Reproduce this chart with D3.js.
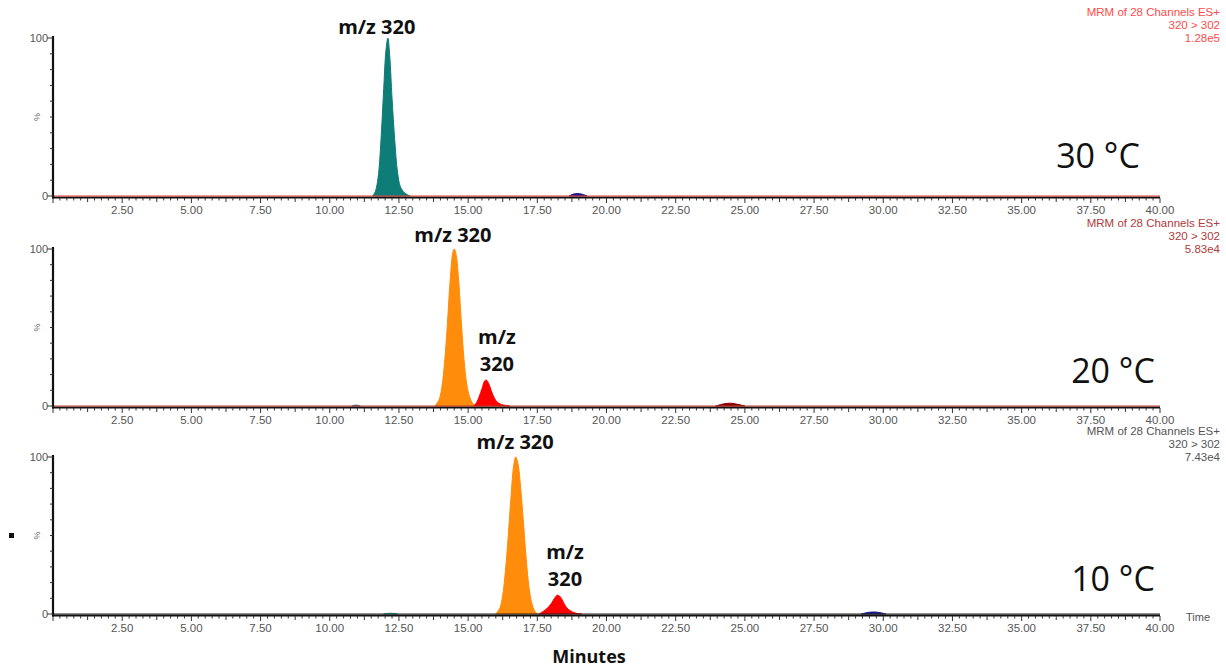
<!DOCTYPE html>
<html><head><meta charset="utf-8">
<script src="https://cdn.jsdelivr.net/npm/d3@7"></script>
<style>body{margin:0;background:#fff;} svg{display:block;}</style>
</head><body>
<svg id="c" width="1226" height="667"></svg>
<script>
// ---- data ----
const xTickLabels = ["2.50","5.00","7.50","10.00","12.50","15.00","17.50","20.00","22.50","25.00","27.50","30.00","32.50","35.00","37.50","40.00"];
const temperatures = ["30 °C","20 °C","10 °C"];
const headerLines = [["MRM of 28 Channels ES+","320 > 302","1.28e5"],
                     ["MRM of 28 Channels ES+","320 > 302","5.83e4"],
                     ["MRM of 28 Channels ES+","320 > 302","7.43e4"]];
// 30 °C main peak (time min, % intensity)
const peak30 = [[11.55,0],[11.65,3],[11.75,12],[11.85,35],[11.95,68],[12.03,92],[12.1,100],[12.17,88],[12.25,62],[12.35,35],[12.45,15],[12.55,6],[12.7,2],[12.9,0]];
const bump30 = [[18.65,0],[18.8,1.2],[18.95,1.6],[19.1,1.2],[19.3,0]];
// 20 °C
const peak20a = [[13.8,0],[13.95,4],[14.05,12],[14.15,28],[14.25,52],[14.35,80],[14.45,98],[14.5,100],[14.57,96],[14.65,82],[14.75,55],[14.85,30],[14.95,14],[15.05,6],[15.15,2],[15.25,0]];
const peak20b = [[15.2,0],[15.3,2],[15.4,6],[15.5,11],[15.6,16],[15.66,16.5],[15.75,14],[15.85,9],[15.95,5],[16.05,2.5],[16.2,1],[16.5,0]];
const bump20 = [[23.95,0],[24.2,1.2],[24.45,1.8],[24.7,1.2],[25.0,0]];
const bump20b = [[10.8,0],[10.95,0.6],[11.1,0]];
// 10 °C
const peak10a = [[16.0,0],[16.15,4],[16.25,12],[16.35,28],[16.45,50],[16.55,75],[16.65,95],[16.72,100],[16.8,96],[16.9,80],[17.0,58],[17.1,35],[17.2,17],[17.3,7],[17.4,2],[17.5,0]];
const peak10b = [[17.55,0],[17.7,1.5],[17.85,3.5],[18.0,6.5],[18.12,10],[18.22,12],[18.3,11.5],[18.4,9],[18.5,5.5],[18.62,3],[18.75,1.5],[18.9,0.5],[19.1,0]];
const bump10 = [[29.2,0],[29.45,1.0],[29.65,1.3],[29.85,1.0],[30.1,0]];
const bump10b = [[11.95,0],[12.2,0.5],[12.45,0]];

const panels = [
  {y0:196, y100:38, base:"#e8403a", hdr:"#ff4a4a",
   traces:[{d:peak30,c:"#0e7c77"},{d:bump30,c:"#1a1a8c"}],
   labels:[{t:["m/z 320"],x:11.7,v:102.5}], temp:{x:1098,y:168}},
  {y0:406, y100:249, base:"#c0392b", hdr:"#b03a3a",
   traces:[{d:peak20a,c:"#ff8c0a"},{d:peak20b,c:"#ff0000"},{d:bump20,c:"#8b0000"},{d:bump20b,c:"#3070b0"}],
   labels:[{t:["m/z 320"],x:14.45,v:104.5},{t:["m/z","320"],x:16.04,v:22.3}], temp:{x:1113,y:383}},
  {y0:614, y100:457, base:"#222", hdr:"#555",
   traces:[{d:peak10a,c:"#ff8c0a"},{d:peak10b,c:"#ff0000"},{d:bump10,c:"#1a1a8c"},{d:bump10b,c:"#20a0a0"}],
   labels:[{t:["m/z 320"],x:16.7,v:105},{t:["m/z","320"],x:18.5,v:17.8}], temp:{x:1113,y:591}}
];

const svg = d3.select("#c");
const x = d3.scaleLinear().domain([0,40]).range([53,1160]);
const minorT = d3.range(0,40.001,0.25);

panels.forEach((p,i)=>{
  const y = d3.scaleLinear().domain([0,100]).range([p.y0,p.y100]);
  const g = svg.append("g");
  const area = d3.area().x(d=>x(d[0])).y0(y(0)).y1(d=>y(d[1])).curve(d3.curveCatmullRom);
  p.traces.forEach(t=>{
    g.append("path").attr("d",area(t.d)).attr("fill",t.c).attr("stroke",t.c).attr("stroke-width",1);
  });
  g.append("line").attr("x1",x(0)).attr("x2",x(40)).attr("y1",p.y0+1.5).attr("y2",p.y0+1.5).attr("stroke","#111").attr("stroke-width",2);
  g.append("line").attr("x1",x(0)).attr("x2",x(40)).attr("y1",p.y0).attr("y2",p.y0).attr("stroke",p.base).attr("stroke-width",1.2);
  minorT.forEach(v=>{
    const major = Math.abs(v/2.5-Math.round(v/2.5))<1e-6;
    const mid = !major && Math.abs(v/1.25-Math.round(v/1.25))<1e-6;
    const len = major?5:(mid?4:2.5);
    g.append("line").attr("x1",x(v)).attr("x2",x(v)).attr("y1",p.y0+2).attr("y2",p.y0+2+len)
      .attr("stroke","#333").attr("stroke-width",1);
  });
  xTickLabels.forEach(l=>{
    g.append("text").attr("x",x(+l)).attr("y",p.y0+18).attr("text-anchor","middle")
      .attr("font-family","Liberation Sans, Arial, sans-serif").attr("font-size",11.5).attr("fill","#555").text(l);
  });
  g.append("line").attr("x1",x(0)).attr("x2",x(0)).attr("y1",y(100)-2).attr("y2",p.y0+2.5).attr("stroke","#111").attr("stroke-width",2.2);
  d3.range(0,101,10).forEach(v=>{
    const len = (v===0||v===100)?6:3;
    g.append("line").attr("x1",x(0)-len).attr("x2",x(0)).attr("y1",y(v)).attr("y2",y(v)).attr("stroke","#333").attr("stroke-width",1);
  });
  [0,100].forEach(v=>{
    g.append("text").attr("x",x(0)-5).attr("y",y(v)+4).attr("text-anchor","end")
      .attr("font-family","Liberation Sans, Arial, sans-serif").attr("font-size",11).attr("fill","#555").text(v);
  });
  g.append("text").attr("transform",`translate(${x(0)-13},${y(50)}) rotate(-90)`).attr("text-anchor","middle")
    .attr("font-family","Liberation Sans, Arial, sans-serif").attr("font-size",9).attr("fill","#666").text("%");
  headerLines[i].forEach((l,k)=>{
    g.append("text").attr("x",1220).attr("y",p.y100-22+k*13).attr("text-anchor","end")
      .attr("font-family","Liberation Sans, Arial, sans-serif").attr("font-size",11.5).attr("fill",p.hdr).text(l);
  });
  p.labels.forEach(lb=>{
    lb.t.forEach((s,k)=>{
      const n = lb.t.length;
      g.append("text").attr("x",x(lb.x)).attr("y",y(lb.v)-(n-1-k)*27).attr("text-anchor","middle")
        .attr("font-family","'Open Sans', Lato, sans-serif").attr("font-weight","bold").attr("font-size",20).attr("fill","#111").text(s);
    });
  });
  g.append("text").attr("x",p.temp.x).attr("y",p.temp.y).attr("text-anchor","middle")
    .attr("font-family","'Open Sans', Lato, sans-serif").attr("font-size",34).attr("fill","#111").text(temperatures[i]);
});

svg.append("text").attr("x",1186).attr("y",621).attr("font-family","Liberation Sans, Arial, sans-serif").attr("font-size",11).attr("fill","#555").text("Time");
svg.append("text").attr("x",589).attr("y",663).attr("text-anchor","middle").attr("font-family","'Open Sans', Lato, sans-serif").attr("font-weight","bold").attr("font-size",18).attr("fill","#111").text("Minutes");
svg.append("rect").attr("x",9).attr("y",533).attr("width",5).attr("height",5).attr("fill","#111");
</script>
</body></html>
